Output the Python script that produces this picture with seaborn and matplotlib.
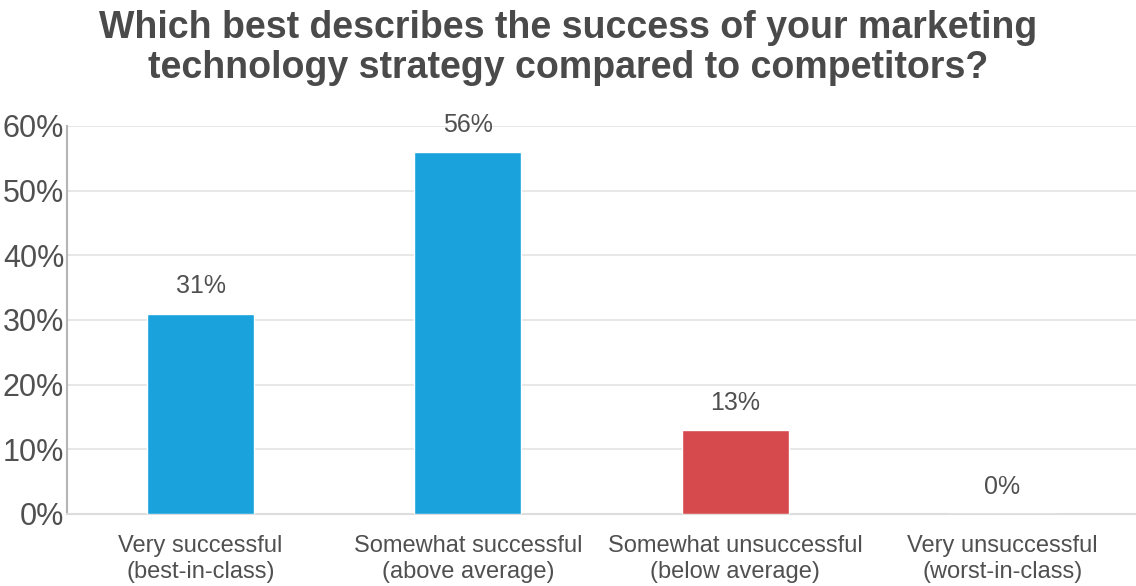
import matplotlib
matplotlib.use("Agg")
import matplotlib.pyplot as plt
import seaborn as sns
import pandas as pd
from matplotlib.ticker import FuncFormatter

categories = [
    "Very successful\n(best-in-class)",
    "Somewhat successful\n(above average)",
    "Somewhat unsuccessful\n(below average)",
    "Very unsuccessful\n(worst-in-class)",
]
values = [31, 56, 13, 0]
bar_colors = ["#19a2dc", "#19a2dc", "#d6494c", "#19a2dc"]
y_ticks = [0, 10, 20, 30, 40, 50, 60]
title = "Which best describes the success of your marketing\ntechnology strategy compared to competitors?"

sns.set_theme(style="white")
plt.rcParams["font.family"] = ["Liberation Sans", "DejaVu Sans"]

text_color = "#505050"

df = pd.DataFrame({"category": categories, "value": values})

fig = plt.figure(figsize=(11.36, 5.86), dpi=100)
ax = fig.add_axes([0.059, 0.1229, 0.941, 0.6621])

sns.barplot(
    data=df, x="category", y="value", hue="category",
    palette=dict(zip(categories, bar_colors)), legend=False,
    width=0.40, saturation=1, ax=ax, zorder=3,
)

ax.set_ylim(0, 60)
ax.set_xlim(-0.5, len(categories) - 0.5)
ax.set_yticks(y_ticks)
ax.yaxis.set_major_formatter(FuncFormatter(lambda v, _: f"{v:.0f}%"))
ax.grid(axis="y", color="#e3e3e3", linewidth=1.2, zorder=0)
ax.set_axisbelow(True)

for side in ["top", "right"]:
    ax.spines[side].set_visible(False)
ax.spines["left"].set_color("#b5b5b5")
ax.spines["left"].set_linewidth(1.5)
ax.spines["bottom"].set_color("#dddddd")
ax.spines["bottom"].set_linewidth(1.5)

ax.tick_params(axis="y", labelsize=22, colors=text_color, length=0, pad=2)
ax.tick_params(axis="x", labelsize=17, colors=text_color, length=0, pad=15)
for lbl in ax.get_xticklabels():
    lbl.set_linespacing(1.22)
ax.set_xlabel("")
ax.set_ylabel("")

for i, v in enumerate(values):
    ax.annotate(f"{v}%", (i, v), xytext=(0, 11), textcoords="offset points",
                ha="center", va="bottom", fontsize=18, color=text_color)

fig.suptitle(title, fontsize=27, fontweight="bold", color="#4a4a4a",
             y=0.983, va="top", linespacing=1.15)

fig.savefig("out.png", dpi=100)
